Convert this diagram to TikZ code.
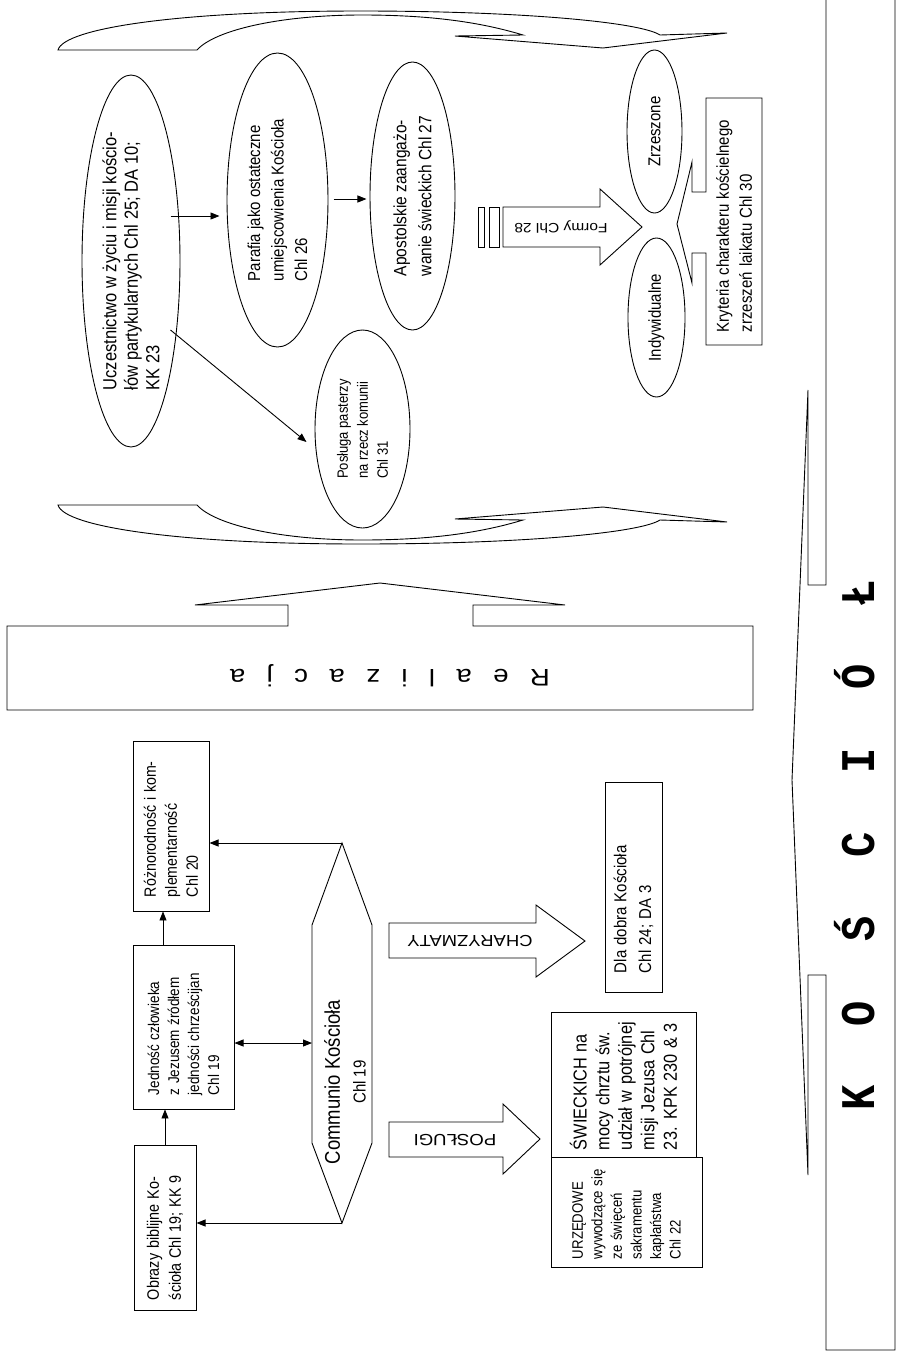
\documentclass[tikz,border=0pt]{standalone}
\usepackage{fontspec}
\setmainfont{Liberation Sans}
\setmonofont{Liberation Mono}
\usetikzlibrary{shapes.geometric,arrows.meta,calc}
\newcommand{\fsz}[2]{\fontsize{#1}{#2}\selectfont}
\begin{document}
\begin{tikzpicture}[
  x=1pt, y=-1pt,
  line width=0.9pt,
  box/.style={draw, rectangle, xscale=1.15, rotate=90, inner sep=2pt, align=left},
  oval/.style={draw, ellipse, xscale=1.15, rotate=90, inner sep=0pt, align=left},
  up/.style={xscale=1.15, rotate=90, inner sep=0pt},
  flip/.style={xscale=1.15, rotate=180, inner sep=0pt},
  arr/.style={-{Triangle[length=9pt,width=7pt]}},
  darr/.style={{Triangle[length=9pt,width=7pt]}-{Triangle[length=9pt,width=7pt]}}
]
\useasboundingbox (0,0) rectangle (899,1355);

\node[box, minimum width=165pt, minimum height=53.9pt, text width=145pt, font=\fsz{14.4}{19.1}] (obrazy) at (165,1227.5) {Obrazy biblijne Ko-\\ścioła Chl 19; KK 9};
\node[box, minimum width=164pt, minimum height=87.8pt, text width=136pt, font=\fsz{13.5}{17.4}] (jed) at (183.5,1027) {Jedność człowieka\\z Jezusem źródłem\\jedności chrześcijan\\Chl 19};
\node[box, minimum width=170pt, minimum height=66.1pt, text width=142pt, font=\fsz{14.2}{18.3}] (rozn) at (171,826) {Różnorodność i kom-\\plementarność\\Chl 20};

\coordinate (hexT) at (342,843);
\coordinate (hexB) at (342,1223);
\coordinate (hexL) at (312,1043);
\draw (hexT) -- (372,925) -- (372,1143) -- (hexB) -- (312,1143) -- (312,925) -- cycle;
\node[up, align=center, font=\fsz{18.5}{22.6}] (comm) at (345,1082) {Communio Kościoła\\{\fsz{15}{22.6}Chl 19}};

\draw[arr] (obrazy.east) -- (obrazy.east |- jed.west);
\draw[arr] ($(rozn.west |- jed.east)+(-8,0)$) -- ($(rozn.west)+(-8,0)$);
\draw[arr] (hexT) -- (rozn.south |- hexT);
\draw[arr] (hexB) -- (obrazy.south |- hexB);
\draw[darr] (jed.south |- hexL) -- (hexL);

\draw (389,923) -- (536,923) -- (536,905) -- (585,941) -- (536,977) -- (536,958) -- (389,958) -- cycle;
\node[flip, font=\fsz{16}{18}] (charyz) at (470,941) {CHARYZMATY};
\draw (389,1122) -- (503,1122) -- (503,1104) -- (540,1139) -- (503,1174) -- (503,1157) -- (389,1157) -- cycle;
\node[flip, font=\fsz{16.2}{18}] (poslugi) at (455,1140) {POSŁUGI};

\node[box, minimum width=210pt, minimum height=49.6pt, text width=172pt, font=\fsz{15}{21.7}] (dla) at (633.5,887) {Dla dobra Kościoła\\Chl 24; DA 3};
\node[box, minimum width=145pt, minimum height=126.1pt, text width=131pt, font=\fsz{16.3}{19.6}] (swiec) at (623.5,1084.5) {ŚWIECKICH na\\mocy chrztu św.\\udział w potrójnej\\misji Jezusa Chl\\23. KPK 230 \& 3};
\node[box, minimum width=110pt, minimum height=131.3pt, text width=94pt, font=\fsz{13.2}{17}] (urz) at (626.5,1212) {URZĘDOWE\\wywodzące się\\ze święceń\\sakramentu\\kapłaństwa\\Chl 22};

\draw (7,626) -- (288,626) -- (288,605) -- (195,605) -- (380,583) -- (565,605) -- (473,605) -- (473,626) -- (753,626) -- (753,710) -- (7,710) -- cycle;
\node[flip, font=\fsz{24}{28}] (realiz) at (390,676) {\spaceskip=18.6pt\relax R e a l i z a c j a};

\draw (58,50) .. controls (64,28) and (180,11) .. (360,11) .. controls (520,11) and (640,22) .. (660,35) -- (727,33) -- (603,48) -- (455,36) -- (523,35) .. controls (480,22) and (430,15) .. (362,15) .. controls (280,15) and (215,30) .. (197,50) -- cycle;
\draw (58,505) .. controls (64,527) and (180,544) .. (360,544) .. controls (520,544) and (640,533) .. (660,520) -- (727,522) -- (603,507) -- (455,519) -- (523,520) .. controls (480,533) and (430,540) .. (362,540) .. controls (280,540) and (215,525) .. (197,505) -- cycle;

\node[oval, minimum width=372pt, minimum height=85.2pt, font=\fsz{16.5}{18.7}] (ucz) at (131,261) {Uczestnictwo w życiu i misji kościo-\\łów partykularnych Chl 25; DA 10;\\KK 23};
\node[oval, minimum width=294pt, minimum height=87.8pt, font=\fsz{15}{20.4}] (par) at (277.5,200) {Parafia jako ostateczne\\umiejscowienia Kościoła\\Chl 26};
\node[oval, minimum width=268pt, minimum height=73.9pt, font=\fsz{15.5}{21.7}] (apo) at (412.5,196) {Apostolskie zaangażo-\\wanie świeckich Chl 27};
\node[oval, minimum width=198pt, minimum height=82.6pt, font=\fsz{13}{17.4}] (pos) at (362.5,429) {Posługa pasterzy\\na rzecz komunii\\Chl 31};
\node[oval, minimum width=163pt, minimum height=47.8pt, font=\fsz{15}{18}] (zrz) at (654.5,131.5) {Zrzeszone};
\node[oval, minimum width=159pt, minimum height=49.6pt, font=\fsz{15}{18}] (ind) at (656.5,317.5) {Indywidualne};

\draw[arr] ($(ucz.south |- par.north)+(-10,16)$) -- ($(par.north)+(-7,16)$);
\draw[arr] ($(par.south)+(5,-1)$) -- ($(apo.north |- par.south)+(-3,-1)$);
\draw[arr] ($(ucz.south)+(-10,69)$) -- ($(pos.north)+(-8,13)$);

\draw (478,207) rectangle (484,247);
\draw (489,207) rectangle (499,247);
\draw (503,207) -- (600,207) -- (600,189) -- (642,227) -- (600,265) -- (600,247) -- (503,247) -- cycle;
\node[flip, font=\fsz{13.5}{16}] (formy) at (561,227) {Formy Chl 28};

\node[box, draw=none, minimum width=247pt, minimum height=48.7pt, text width=221pt, font=\fsz{15}{20}] (kryt) at (734,221.5) {Kryteria charakteru kościelnego\\zrzeszeń laikatu Chl 30};
\draw (706,98) -- (762,98) -- (762,345) -- (706,345) -- (706,253) -- (692,253) -- (692,283) -- (677,224) -- (692,162) -- (692,192) -- (706,192) -- cycle;

\draw (826,-5) -- (826,585) -- (808,585) -- (808,390) -- (792,780) -- (808,1175) -- (808,975) -- (826,975) -- (826,1350) -- (895,1350) -- (895,-5);
\node[up, font=\fsz{42}{46}\ttfamily\bfseries] (kosc) at (855,845) {\spaceskip=59pt\relax K O Ś C I Ó Ł};
\end{tikzpicture}
\end{document}
